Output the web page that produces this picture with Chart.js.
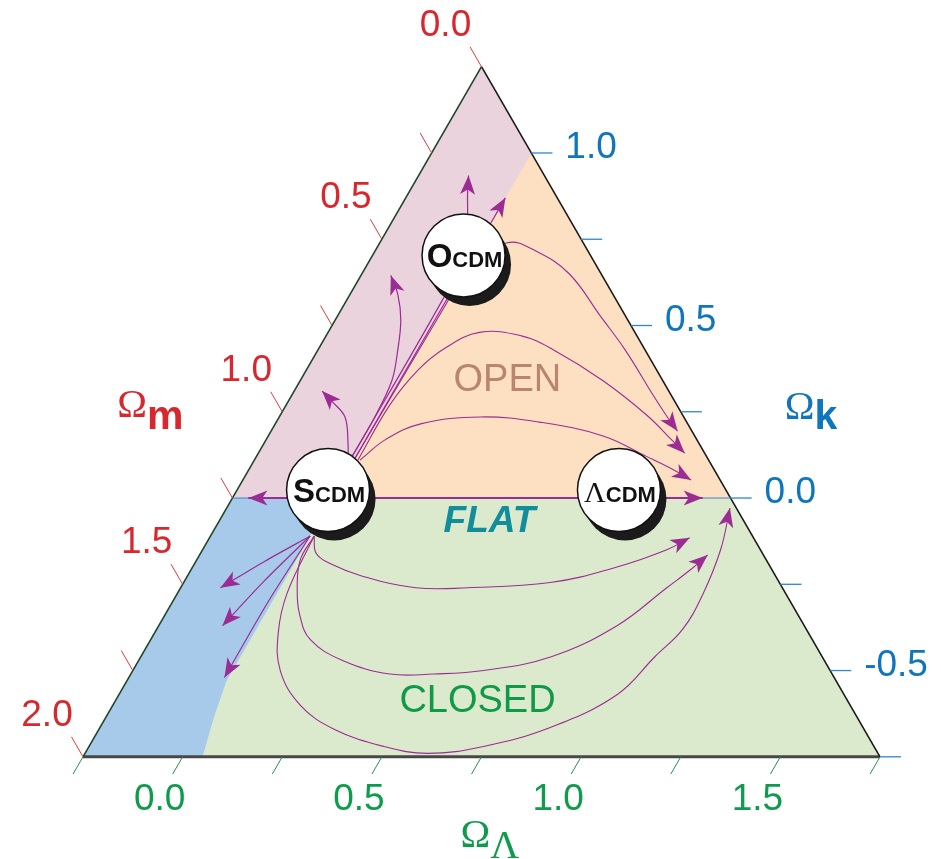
<!DOCTYPE html>
<html>
<head>
<meta charset="utf-8">
<script src="https://cdn.jsdelivr.net/npm/chart.js@4.4.0/dist/chart.umd.min.js"></script>
<style>
  html, body { margin: 0; padding: 0; background: #fff; }
  #wrap { position: relative; width: 941px; height: 859px; }
</style>
</head>
<body>
<div id="wrap"><canvas id="c"></canvas></div>
<script>
// every point is [Ωm, ΩΛ]; Ωk = 1 - Ωm - ΩΛ
const modelNames = ["S", "O", "Λ"];
const modelPoints = [[1.0, 0.0], [0.32, 0.0], [0.27, 0.73]];

const triangleCorners = [[0, -0.25], [2, -0.25], [0, 1.75]];
const decelRegion = [[0, -0.25], [1.25, -0.25], [1, 0], [0, 0]];
const openRegion = [[1, 0], [0, 0], [0, 1]];
const recollapseRegion = [[1.25, -0.25], [1, 0], [1.27, 0], [1.53, 0], [1.61, 0.02], [1.70, 0.05], [2, -0.25]];
const flatLine = [[1.25, -0.25], [0, 1]];

const pinkPaths = [
  [[0.92, 0.0], [0.88, -0.04], [0.85, -0.085], [0.86, -0.14], [0.87, -0.18]],
  [[0.90, -0.01], [0.78, -0.01], [0.68, -0.02], [0.62, -0.05], [0.57, -0.085], [0.54, -0.13], [0.53, -0.175]],
  [[0.90, -0.01], [0.435, -0.01], [0.31, -0.02], [0.25, -0.07], [0.22, -0.10], [0.19, -0.125]],
  [[1.0, 0.0], [0.5, 0.0], [0.2, 0.0], [0.13, 0.0]],
];
const openPaths = [
  [[0.90, 0.0], [0.44, 0.005], [0.32, 0.01], [0.19, 0.07], [0.13, 0.155], [0.08, 0.27], [0.063, 0.41], [0.05, 0.52], [0.045, 0.66], [0.041, 0.727], [0.036, 0.77]],
  [[0.88, 0.01], [0.72, 0.01], [0.60, 0.03], [0.50, 0.066], [0.39, 0.13], [0.29, 0.24], [0.23, 0.34], [0.15, 0.51], [0.09, 0.67], [0.063, 0.77], [0.05, 0.82]],
  [[0.875, 0.015], [0.78, 0.05], [0.67, 0.115], [0.51, 0.255], [0.37, 0.41], [0.23, 0.59], [0.15, 0.73], [0.10, 0.82], [0.073, 0.875]],
];
const flatPaths = [
  [[1.0, 0.0], [1.21, -0.21]],
  [[1.0, 0.0], [0.07, 0.93]],
];
const recollapsePaths = [
  [[1.11, 0.0], [1.26, -0.077], [1.41, -0.15]],
  [[1.11, 0.0], [1.29, -0.05], [1.46, -0.09]],
  [[1.11, 0.0], [1.31, -0.01], [1.53, -0.01]],
];
const closedPaths = [
  [[1.10, 0.01], [1.12, 0.04], [1.10, 0.09], [1.04, 0.185], [0.92, 0.34], [0.79, 0.47], [0.575, 0.67], [0.385, 0.815], [0.235, 0.915], [0.16, 0.955]],
  [[1.10, 0.01], [1.17, 0.01], [1.22, 0.045], [1.25, 0.087], [1.26, 0.15], [1.21, 0.26], [1.11, 0.40], [1.00, 0.51], [0.87, 0.63], [0.68, 0.78], [0.47, 0.90], [0.29, 0.97], [0.20, 1.005], [0.14, 1.025]],
  [[1.10, 0.01], [1.25, 0.025], [1.33, 0.06], [1.38, 0.12], [1.38, 0.22], [1.33, 0.34], [1.23, 0.49], [1.13, 0.61], [0.98, 0.74], [0.785, 0.88], [0.57, 1.00], [0.42, 1.04], [0.31, 1.07], [0.21, 1.07], [0.10, 1.05], [0.016, 1.013]],
];

const omegaMTicks = [0, 0.25, 0.5, 0.75, 1.0, 1.25, 1.5, 1.75, 2.0];
const omegaMLabels = [0, 0.5, 1.0, 1.5, 2.0];
const omegaKTicks = [1.0, 0.75, 0.5, 0.25, 0, -0.25, -0.5, -0.75];
const omegaKLabels = [1.0, 0.5, 0.0, -0.5];
const omegaLTicks = [-0.25, 0, 0.25, 0.5, 0.75, 1.0, 1.25, 1.5, 1.75];
const omegaLLabels = [0.0, 0.5, 1.0, 1.5];

const regionNames = ["OPEN", "FLAT", "CLOSED"];
const regionSpots = [[0.39, 0.27], [0.64, 0.43], [0.93, 0.66]];

const RED = "#d7282f", BLUE = "#0f75bc", GREEN = "#0e9c4c", PURPLE = "#9b2c94";
const SQ = Math.sqrt(3) / 2;

function toXY([om, ol]) {
  const ok = 1 - om - ol;
  return { x: ol + ok / 2, y: ok * SQ };
}
function P(chart, p) {
  const v = toXY(p);
  return { x: chart.scales.x.getPixelForValue(v.x), y: chart.scales.y.getPixelForValue(v.y) };
}

const datasets = [];
const arrowSets = [];
function addPath(pts, width, tension) {
  arrowSets.push(datasets.length);
  datasets.push({ data: pts.map(toXY), borderColor: PURPLE, borderWidth: width, tension, fill: false, order: 1 });
}
function addShape(pts, color, order) {
  datasets.push({ data: pts.map(toXY), borderColor: "rgba(0,0,0,0)", backgroundColor: color, fill: "shape", tension: 0, order });
}
function addEdge(pts, color, width) {
  datasets.push({ data: pts.map(toXY), borderColor: color, borderWidth: width, tension: 0, fill: false, order: 3 });
}

addShape(triangleCorners, "#dbeacd", 20);
addShape(decelRegion, "#ebd3dd", 10);
addShape(openRegion, "#fde0c2", 10);
addShape(recollapseRegion, "#a8caea", 10);
addEdge(flatLine, "#3d80c6", 1);
addEdge([triangleCorners[0], triangleCorners[1]], "#1f4427", 1.6);
addEdge([triangleCorners[0], triangleCorners[2]], "#1a1a1a", 1.6);
addEdge([triangleCorners[1], triangleCorners[2]], "#474747", 3);
pinkPaths.forEach(p => addPath(p, 1.2, 0.35));
openPaths.forEach(p => addPath(p, 1.1, 0.4));
flatPaths.forEach(p => addPath(p, 2, 0));
recollapsePaths.forEach(p => addPath(p, 1.2, 0.3));
closedPaths.forEach(p => addPath(p, 1.1, 0.4));

function line(ctx, a, b, color, w) {
  ctx.strokeStyle = color; ctx.lineWidth = w;
  ctx.beginPath(); ctx.moveTo(a.x, a.y); ctx.lineTo(b.x, b.y); ctx.stroke();
}
function runs(ctx, x, y, parts, align) {
  let total = 0;
  parts.forEach(([t, f]) => { ctx.font = f; total += ctx.measureText(t).width; });
  let cx = align === "center" ? x - total / 2 : x;
  ctx.textAlign = "left"; ctx.textBaseline = "alphabetic";
  parts.forEach(([t, f, c, dy]) => {
    ctx.font = f; ctx.fillStyle = c;
    ctx.fillText(t, cx, y + (dy || 0));
    cx += ctx.measureText(t).width;
  });
}
function arrowHead(ctx, x, y, ang) {
  ctx.save();
  ctx.translate(x, y); ctx.rotate(ang);
  ctx.fillStyle = PURPLE;
  ctx.beginPath();
  ctx.moveTo(0, 0); ctx.lineTo(-19, -7.5); ctx.lineTo(-14, 0); ctx.lineTo(-19, 7.5);
  ctx.closePath(); ctx.fill();
  ctx.restore();
}

const trianglePlugin = {
  id: "cosmicTriangle",
  afterDatasetsDraw(chart) {
    const ctx = chart.ctx;
    ctx.save();

    // axis ticks
    omegaMTicks.forEach(v => line(ctx, P(chart, [v, -0.25]), P(chart, [v, -0.308]), "#e2393f", 1));
    omegaKTicks.forEach(v => line(ctx, P(chart, [0, 1 - v]), P(chart, [-0.053, 1 - v + 0.053]), "#2f86cb", 1.3));
    omegaLTicks.forEach(v => line(ctx, P(chart, [1.75 - v, v]), P(chart, [1.8 - v, v]), "#2b9046", 1));

    // tick labels
    ctx.textAlign = "center"; ctx.textBaseline = "middle";
    ctx.font = "37px 'Liberation Sans', Arial, sans-serif";
    ctx.fillStyle = RED;
    omegaMLabels.forEach(v => { const b = P(chart, [v, -0.25]); ctx.fillText(v.toFixed(1), b.x - 36, b.y - 41); });
    ctx.fillStyle = GREEN;
    omegaLLabels.forEach(v => { const b = P(chart, [1.75 - v, v]); ctx.fillText(v.toFixed(1), b.x - 23, b.y + 43); });
    ctx.fillStyle = BLUE; ctx.textAlign = "left";
    omegaKLabels.forEach(v => { const b = P(chart, [0, 1 - v]); ctx.fillText(v.toFixed(1), b.x + 34, b.y - 5); });

    // axis titles
    const serif = "'Liberation Serif', 'Times New Roman', serif";
    const sans = "'Liberation Sans', Arial, sans-serif";
    let a = P(chart, [1.0, -0.25]);
    runs(ctx, a.x - 165, a.y + 5, [["Ω", "40px " + serif, RED], ["m", "bold 41px " + sans, RED, 12]], "left");
    a = P(chart, [0, 0.75]);
    runs(ctx, a.x + 104, a.y + 7, [["Ω", "40px " + serif, BLUE], ["k", "bold 41px " + sans, BLUE, 10]], "left");
    a = P(chart, [1.0, 0.75]);
    runs(ctx, a.x - 21, a.y + 90, [["Ω", "40px " + serif, GREEN], ["Λ", "40px " + serif, GREEN, 11]], "left");

    // region names
    const regionFonts = ["38px " + sans, "italic bold 37px " + sans, "38px " + sans];
    const regionColors = ["#b8866e", "#138c9b", "#109a48"];
    ctx.textAlign = "center"; ctx.textBaseline = "middle";
    regionNames.forEach((t, i) => {
      const p = P(chart, regionSpots[i]);
      ctx.font = regionFonts[i]; ctx.fillStyle = regionColors[i];
      ctx.fillText(t, p.x, p.y);
    });

    // arrow heads along the last tangent of each path
    arrowSets.forEach(i => {
      const pts = chart.getDatasetMeta(i).data;
      const end = pts[pts.length - 1];
      let fx = end.cp1x, fy = end.cp1y;
      if (fx === undefined || Math.hypot(end.x - fx, end.y - fy) < 0.5) { fx = pts[pts.length - 2].x; fy = pts[pts.length - 2].y; }
      arrowHead(ctx, end.x, end.y, Math.atan2(end.y - fy, end.x - fx));
    });

    // model discs
    modelPoints.forEach((m, i) => {
      const p = P(chart, m);
      ctx.fillStyle = "#1b1b1b";
      ctx.beginPath(); ctx.arc(p.x + 2, p.y + 1, 41.5, 0, Math.PI * 2); ctx.fill();
      ctx.fillStyle = "#fff"; ctx.strokeStyle = "#111"; ctx.lineWidth = 1.5;
      ctx.beginPath(); ctx.arc(p.x - 4, p.y - 8, 41.5, 0, Math.PI * 2); ctx.fill(); ctx.stroke();
      const first = modelNames[i] === "Λ"
        ? ["Λ", "30px " + serif, "#111"]
        : [modelNames[i], "bold 33px " + sans, "#111"];
      runs(ctx, p.x - 3, p.y + 4, [first, ["CDM", "bold 22px " + sans, "#111"]], "center");
    });

    ctx.restore();
  }
};

new Chart(document.getElementById("c"), {
  type: "line",
  data: { datasets },
  options: {
    responsive: true,
    maintainAspectRatio: false,
    animation: false,
    events: [],
    layout: { padding: 0 },
    elements: { point: { radius: 0 } },
    plugins: { legend: { display: false }, tooltip: { enabled: false } },
    scales: {
      x: { type: "linear", min: -0.8333, max: 1.5281, display: false },
      y: { type: "linear", min: -0.906, max: 1.25, display: false },
    },
  },
  plugins: [trianglePlugin],
});
</script>
</body>
</html>
